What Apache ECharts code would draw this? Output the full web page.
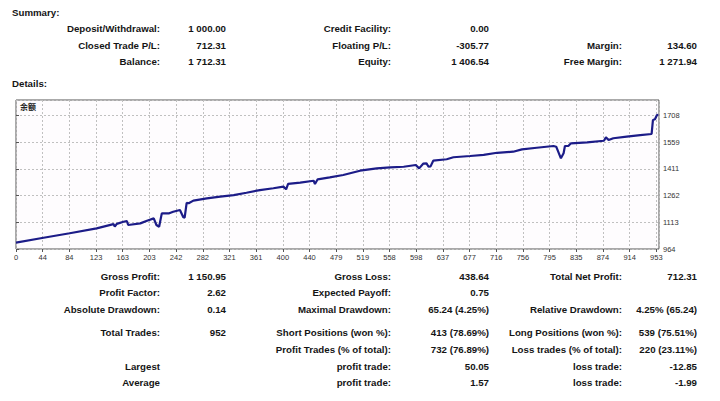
<!DOCTYPE html>
<html>
<head>
<meta charset="utf-8">
<script src="https://cdn.jsdelivr.net/npm/echarts@6/dist/echarts.min.js"></script>
<style>
  html,body{margin:0;padding:0;background:#fff;}
  #wrap{position:relative;width:720px;height:401px;overflow:hidden;font-family:"Liberation Sans",Arial,sans-serif;}
  #chart{position:absolute;left:0;top:0;width:720px;height:401px;}
  .t{position:absolute;font-weight:bold;font-size:9.7px;color:#151515;white-space:nowrap;line-height:12px;}
  .r{transform:translate(-100%,-50%);}
  .l{transform:translate(0,-50%);}
</style>
</head>
<body>
<div id="wrap">
  <div id="chart"></div>
  <div id="texts"></div>
</div>
<script>
// ---- data ----
var tradeIdx = [0,41,80,120,145,147,150,160,165,167,185,195,205,209,213,217,228,234,244,249,251,254,257,264,284,304,324,343,363,383,398,402,405,423,443,445,449,467,487,512,537,557,577,595,600,606,611,614,617,621,641,651,676,696,716,740,753,775,800,804,811,815,817,822,826,850,875,878,882,889,909,929,946,948,951,954,956];
var balance  = [1000,1027,1052,1079,1103,1089,1104,1116,1120,1098,1107,1122,1135,1098,1088,1163,1163,1172,1182,1141,1139,1222,1219,1234,1247,1256,1265,1278,1293,1303,1312,1297,1327,1334,1345,1327,1353,1364,1377,1401,1414,1420,1423,1433,1414,1440,1442,1423,1425,1457,1465,1476,1483,1489,1501,1507,1520,1529,1539,1535,1470,1498,1539,1539,1554,1559,1568,1587,1572,1582,1591,1600,1606,1684,1688,1712,1712.31];
var xTicks = [0,44,84,123,163,203,242,282,321,361,400,440,479,519,558,598,637,677,716,756,795,835,874,914,953];
var yTicks = [964,1113,1262,1411,1559,1708];

var summaryRows = [
  ["Deposit/Withdrawal:", "1 000.00", "Credit Facility:", "0.00", "", ""],
  ["Closed Trade P/L:", "712.31", "Floating P/L:", "-305.77", "Margin:", "134.60"],
  ["Balance:", "1 712.31", "Equity:", "1 406.54", "Free Margin:", "1 271.94"]
];
var detailRows = [
  ["Gross Profit:", "1 150.95", "Gross Loss:", "438.64", "Total Net Profit:", "712.31"],
  ["Profit Factor:", "2.62", "Expected Payoff:", "0.75", "", ""],
  ["Absolute Drawdown:", "0.14", "Maximal Drawdown:", "65.24 (4.25%)", "Relative Drawdown:", "4.25% (65.24)"],
  ["Total Trades:", "952", "Short Positions (won %):", "413 (78.69%)", "Long Positions (won %):", "539 (75.51%)"],
  ["", "", "Profit Trades (% of total):", "732 (76.89%)", "Loss trades (% of total):", "220 (23.11%)"],
  ["Largest", "", "profit trade:", "50.05", "loss trade:", "-12.85"],
  ["Average", "", "profit trade:", "1.57", "loss trade:", "-1.99"]
];

// ---- text layout ----
var colX = [160, 226, 391, 489, 622, 697];
var summaryY = [29, 45.7, 62.3];
var detailY = [276.7, 293.3, 310, 333.3, 350, 366.7, 383.3];
var html = '';
function addT(txt, x, y, cls){ if(!txt) return; html += '<div class="t '+cls+'" style="left:'+x+'px;top:'+y+'px">'+txt+'</div>'; }
addT('Summary:', 12, 13, 'l');
addT('Details:', 12, 84, 'l');
summaryRows.forEach(function(r,i){ r.forEach(function(c,j){ addT(c, colX[j], summaryY[i], 'r'); }); });
detailRows.forEach(function(r,i){ r.forEach(function(c,j){ addT(c, colX[j], detailY[i], 'r'); }); });
document.getElementById('texts').innerHTML = html;

// ---- chart ----
var xInterval = 953/24;
var yInterval = 148.85;
var data = tradeIdx.map(function(x,i){ return [x, balance[i]]; });
var chart = echarts.init(document.getElementById('chart'), null, {renderer:'svg'});
chart.setOption({
  animation:false,
  grid:{left:16, top:100, width:643, height:149, show:true, backgroundColor:'#fefcfe', borderColor:'#555', borderWidth:1},
  graphic:[{type:'text', left:20, top:102, style:{text:'余额', font:'bold 8px "Noto Sans CJK SC"', fill:'#222'}}],
  xAxis:{
    type:'value', min:0, max:957, interval:xInterval,
    axisLine:{show:false},
    axisTick:{show:true, length:3, lineStyle:{color:'#555'}},
    splitLine:{show:true, lineStyle:{color:'#c0c0c0', type:[2,2], width:1}},
    axisLabel:{show:true, showMaxLabel:false, margin:4, fontSize:7.5, color:'#333', fontFamily:'Liberation Sans',
      formatter:function(v){ var k=Math.round(v/xInterval); return k<xTicks.length ? String(xTicks[k]) : ''; }}
  },
  yAxis:{
    type:'value', position:'right', min:964, max:1795.6, interval:yInterval,
    axisLine:{show:false},
    axisTick:{show:true, length:3, lineStyle:{color:'#555'}},
    splitLine:{show:true, lineStyle:{color:'#c0c0c0', type:[2,2], width:1}},
    axisLabel:{show:true, showMaxLabel:false, margin:4, fontSize:7.5, color:'#333', fontFamily:'Liberation Sans',
      formatter:function(v){ var k=Math.round((v-964)/yInterval); return k<yTicks.length ? String(yTicks[k]) : ''; }}
  },
  series:[{type:'line', data:data, showSymbol:false, smooth:false,
    lineStyle:{color:'#1c1c88', width:2.2}, itemStyle:{color:'#1c1c88'}}]
});
</script>
</body>
</html>
